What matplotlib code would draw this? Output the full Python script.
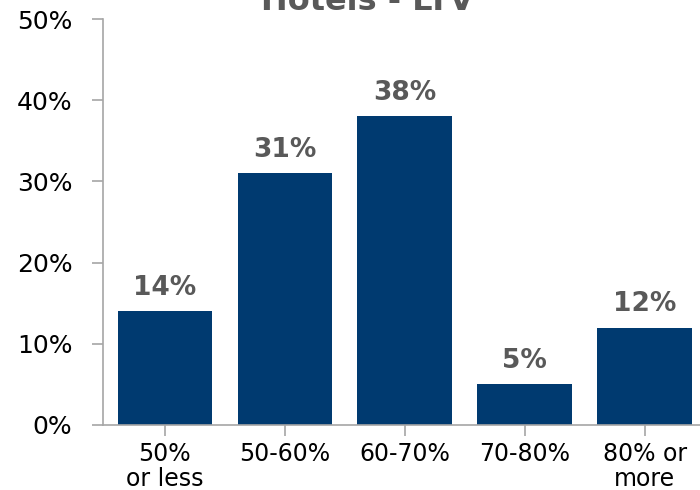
import matplotlib
matplotlib.use("Agg")
import matplotlib.pyplot as plt
from matplotlib.ticker import PercentFormatter

categories = ["50%\nor less", "50-60%", "60-70%", "70-80%", "80% or\nmore"]
shares = [0.14, 0.31, 0.38, 0.05, 0.12]
value_labels = ["14%", "31%", "38%", "5%", "12%"]
y_ticks = [0, 0.1, 0.2, 0.3, 0.4, 0.5]

bar_color = "#003A70"
axis_gray = "#A6A6A6"
label_gray = "#595959"

fig = plt.figure(figsize=(7, 4.9), dpi=100)
ax = fig.add_axes([0.147, 0.1327, 0.853, 0.8285])

x = range(len(categories))
bars = ax.bar(x, shares, width=0.79, color=bar_color)

for b, txt in zip(bars, value_labels):
    ax.annotate(txt, (b.get_x() + b.get_width() / 2, b.get_height()),
                xytext=(0, 12), textcoords="offset points",
                ha="center", va="baseline", fontsize=19, fontweight="bold",
                color=label_gray)

ax.set_xlim(-0.517, 4.46)
ax.set_ylim(0, 0.5)
ax.set_yticks(y_ticks)
ax.yaxis.set_major_formatter(PercentFormatter(1.0, decimals=0))
ax.set_xticks(list(x))
ax.set_xticklabels(categories, linespacing=1.05)

for side in ["top", "right"]:
    ax.spines[side].set_visible(False)
for side in ["left", "bottom"]:
    ax.spines[side].set_color(axis_gray)
    ax.spines[side].set_linewidth(1.2)

ax.tick_params(axis="both", colors=axis_gray, length=8, width=1.2,
               labelcolor="black", labelsize=17)
ax.tick_params(axis="y", labelsize=18, pad=14)
ax.tick_params(axis="x", pad=4)

fig.text(0.525, 0.9796, "Hotels - LTV", ha="center", va="baseline",
         fontsize=23, fontweight="bold", color=label_gray)

fig.savefig("out.png", dpi=100)
